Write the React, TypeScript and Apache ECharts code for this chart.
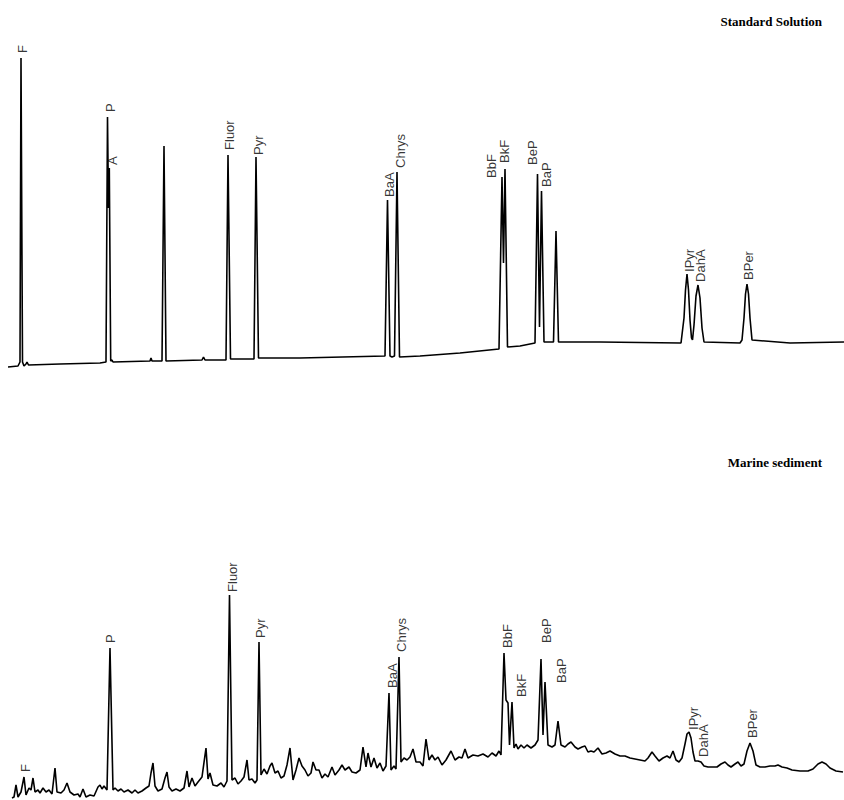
import React, { useEffect, useRef } from "react";
import * as echarts from "echarts";

// ---------- Standard Solution trace (retention position, signal) ----------
const topTime = [
  8, 18, 20, 21, 22.5, 24, 26, 27, 28.5, 60, 100, 106, 107.5, 108.5, 109.3, 110.7, 112, 113,
  150, 151, 152, 162, 164, 166, 202, 203.5, 205, 226, 228, 230.5, 254, 256, 258.5, 300,
  385, 387.5, 390, 392, 394.5, 397, 399.5, 420, 460, 499, 502, 503.5, 505, 507.5, 520, 535,
  537.5, 539.5, 541.5, 544, 553.5, 556, 558.5, 600, 680,
  681, 684, 685.5, 687, 688.5, 690, 691.5, 692.5, 694, 696, 698, 700, 702, 704, 740,
  742, 744, 745.5, 747, 748.5, 750, 752, 790, 844,
];
const topSignal = [
  3, 4, 8, 312, 8, 4, 6, 8, 5, 6, 7, 8, 253, 162, 202, 9, 10, 8,
  9, 12, 9, 9, 224, 9, 10, 13, 10, 10, 215, 11, 11, 213, 12, 12,
  14, 170, 14, 13, 14, 198, 13, 14, 17, 21, 193, 107, 201, 23, 24, 27,
  196, 43, 179, 28, 28, 139, 28, 28, 27,
  27, 52, 80, 96, 80, 50, 32, 30, 45, 74, 85, 72, 42, 28, 27,
  30, 52, 76, 86, 76, 52, 30, 27, 28,
];
const topLabelNames = ["F", "P", "A", "Fluor", "Pyr", "BaA", "Chrys", "BbF", "BkF", "BeP", "BaP", "IPyr", "DahA", "BPer"];
const topLabelTime = [22, 110, 112.5, 229, 258, 389, 400, 491, 504, 532, 546, 689, 700, 748];
const topLabelSignal = [317, 258, 205, 220, 215, 173, 202, 192, 207, 205, 183, 98, 88, 90];

// ---------- Marine sediment trace ----------
const bottomTime = [
  12, 14, 16, 18, 21, 24, 26, 29, 31, 33, 35, 38, 40, 43, 46, 49, 52, 55, 57, 61, 64, 67, 70, 74,
  78, 80, 83, 86, 90, 94, 98, 100, 102, 104, 107, 110, 113, 115, 118, 121, 124, 128, 132, 135,
  138, 142, 146, 149, 151, 153, 155, 158, 162, 165, 167, 169, 172, 176, 180, 184, 187, 189, 192,
  195, 198, 202, 206, 208, 210, 213, 217, 221, 224, 227, 229.5, 232, 235, 238, 241, 244, 247,
  249, 252, 255, 257, 259, 261, 264, 267, 270, 272, 275, 278, 281, 284, 287, 290, 293, 296, 299,
  302, 305, 308, 311, 313, 316, 319, 322, 325, 328, 332, 335, 339, 342, 345, 349, 352, 356, 360,
  363, 366, 368, 371, 374, 377, 380, 383, 386, 389, 391, 394, 396, 399, 401, 404, 407, 410, 413,
  416, 420, 423, 426, 429, 432, 435, 438, 442, 446, 451, 455, 459, 462, 465, 468, 473, 478, 483,
  488, 492, 496, 499, 501, 504, 506, 508, 509.5, 512, 514, 516, 518, 521, 524, 527, 531, 535, 538,
  541, 543, 545, 548, 552, 555, 558, 561, 565, 568, 571, 575, 578, 582, 585, 588, 591, 594, 598,
  602, 606, 610, 615, 620, 625, 630, 635, 640, 645, 648, 652, 655, 659, 663, 667, 670, 673, 676,
  679, 682, 685, 687, 689, 691, 693, 695, 698, 701, 704, 708, 713, 717, 721, 725, 728, 731, 735,
  738, 741, 744, 747, 750, 753, 756, 760, 765, 770, 775, 778, 782, 787, 792, 800, 808, 813, 818,
  822, 826, 830, 836, 843,
];
const bottomSignal = [
  2, 3, 15, 3, 8, 23, 5, 12, 10, 22, 8, 10, 7, 12, 8, 10, 6, 32, 8, 7, 10, 17, 8, 5,
  6, 3, 11, 3, 5, 4, 13, 15, 11, 14, 10, 152, 10, 12, 9, 11, 8, 10, 7, 10,
  7, 9, 12, 14, 27, 37, 14, 9, 11, 22, 28, 13, 9, 11, 9, 12, 29, 13, 22,
  14, 18, 23, 52, 21, 27, 15, 14, 17, 13, 19, 205, 20, 22, 16, 19, 23, 40,
  20, 21, 17, 20, 158, 25, 31, 26, 34, 37, 27, 29, 22, 24, 35, 52, 20, 30, 42,
  34, 30, 24, 27, 38, 30, 30, 22, 26, 23, 33, 25, 30, 35, 30, 33, 28, 27, 30,
  53, 33, 47, 33, 42, 32, 37, 29, 34, 107, 30, 34, 31, 143, 38, 42, 40, 43, 51,
  38, 38, 34, 61, 40, 45, 40, 43, 35, 40, 49, 40, 43, 42, 51, 42, 45, 44, 46,
  43, 47, 44, 49, 45, 147, 100, 97, 55, 98, 52, 56, 51, 55, 52, 55, 52, 55, 60,
  141, 65, 118, 55, 53, 55, 79, 55, 53, 56, 58, 53, 51, 53, 54, 48, 49, 48, 52,
  46, 47, 49, 46, 44, 44, 42, 41, 40, 39, 42, 48, 44, 39, 42, 44, 42, 49, 40,
  38, 42, 56, 66, 68, 62, 48, 39, 39, 38, 34, 33, 33, 33, 36, 38, 35, 33, 36,
  38, 34, 36, 49, 57, 49, 35, 33, 33, 34, 34, 35, 33, 32, 30, 29, 29, 31, 36,
  38, 36, 32, 29, 28,
];
const bottomLabelNames = ["F", "P", "Fluor", "Pyr", "BaA", "Chrys", "BbF", "BkF", "BeP", "BaP", "IPyr", "DahA", "BPer"];
const bottomLabelTime = [25, 110, 232, 260, 392, 401, 507, 521, 546, 561, 693, 703, 752];
const bottomLabelSignal = [28, 157, 208, 162, 112, 148, 152, 103, 157, 117, 70, 43, 62];

const panelTitles = ["Standard Solution", "Marine sediment"];

const zip = (xs: number[], ys: number[]) => xs.map((x, i) => [x, ys[i]]);
const zipLabels = (xs: number[], ys: number[], names: string[]) =>
  xs.map((x, i) => [x, ys[i], names[i]]);

export default function App() {
  const ref = useRef<HTMLDivElement>(null);
  useEffect(() => {
    if (!ref.current) return;
    const chart = echarts.init(ref.current, undefined, { renderer: "svg" });
    const traceStyle = { color: "#000", width: 1.6 };
    const titleStyle = {
      fontFamily: "Liberation Serif, Times New Roman, serif",
      fontWeight: "bold",
      fontSize: 13,
      color: "#000",
    };
    const labelSeries = (idx: number, data: any[]) => ({
      type: "scatter",
      xAxisIndex: idx,
      yAxisIndex: idx,
      data,
      symbolSize: 0.1,
      itemStyle: { color: "rgba(0,0,0,0)" },
      silent: true,
      label: {
        show: true,
        formatter: (p: any) => p.data[2],
        position: "top",
        distance: 0,
        rotate: 90,
        align: "left",
        verticalAlign: "middle",
        fontFamily: "Liberation Sans, Arial, sans-serif",
        fontSize: 13,
        color: "#000",
      },
    });
    const axisX = (idx: number) => ({
      type: "value",
      gridIndex: idx,
      min: 0,
      max: 844,
      show: false,
    });
    const axisY = (idx: number) => ({
      type: "value",
      gridIndex: idx,
      min: 0,
      max: 370,
      show: false,
    });
    chart.setOption({
      animation: false,
      backgroundColor: "#fff",
      title: [
        { text: panelTitles[0], right: 22, top: 15, padding: 0, textStyle: titleStyle },
        { text: panelTitles[1], right: 22, top: 456, padding: 0, textStyle: titleStyle },
      ],
      grid: [
        { left: 0, top: 0, width: 844, height: 370 },
        { left: 0, top: 430, width: 844, height: 370 },
      ],
      xAxis: [axisX(0), axisX(1)],
      yAxis: [axisY(0), axisY(1)],
      series: [
        {
          type: "line",
          xAxisIndex: 0,
          yAxisIndex: 0,
          data: zip(topTime, topSignal),
          showSymbol: false,
          lineStyle: traceStyle,
          silent: true,
        },
        {
          type: "line",
          xAxisIndex: 1,
          yAxisIndex: 1,
          data: zip(bottomTime, bottomSignal),
          showSymbol: false,
          lineStyle: traceStyle,
          silent: true,
        },
        labelSeries(0, zipLabels(topLabelTime, topLabelSignal, topLabelNames)),
        labelSeries(1, zipLabels(bottomLabelTime, bottomLabelSignal, bottomLabelNames)),
      ],
    });
    return () => chart.dispose();
  }, []);
  return (
    <div
      ref={ref}
      style={{ position: "fixed", left: 0, top: 0, width: 844, height: 800, background: "#fff" }}
    />
  );
}
